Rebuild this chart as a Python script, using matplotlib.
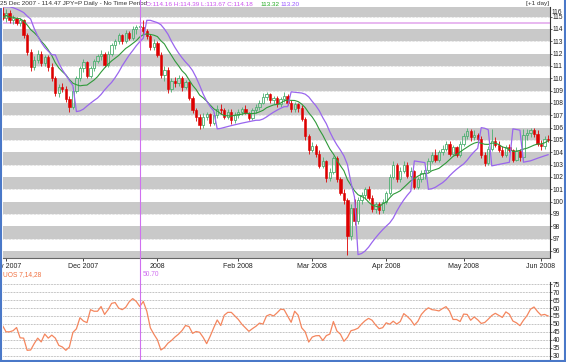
import numpy as np
import pandas as pd
import matplotlib
matplotlib.use('Agg')
import matplotlib.pyplot as plt
from matplotlib.lines import Line2D
from matplotlib.transforms import blended_transform_factory

plt.rcParams['font.family'] = ['Liberation Sans', 'DejaVu Sans']

# ---- data (JPY=P daily) ----
dates = pd.bdate_range('2007-10-31', '2008-06-04')

opens = [115.3, 114.9, 115.3, 114.7, 114.9, 114.5, 114.7, 113.5, 112.1, 110.9,
         111.5, 112.0, 111.2, 111.7, 110.9, 110.0, 108.8, 109.3, 109.1, 108.3,
         107.7, 109.0, 110.0, 110.8, 111.3, 110.2, 110.8, 111.4, 111.8, 112.0,
         111.1, 112.0, 112.7, 113.0, 113.5, 113.0, 113.7, 113.3, 114.0, 114.16,
         114.18, 113.8, 113.4, 112.5, 112.9, 111.9, 110.3, 110.7, 109.1, 109.8,
         109.6, 110.0, 109.3, 109.7, 108.4, 107.4, 106.9, 106.2, 106.9, 107.1,
         106.4, 107.0, 107.5, 107.4, 106.9, 107.3, 106.6, 107.0, 107.3, 107.5,
         107.2, 106.8, 107.4, 107.7, 108.0, 108.5, 108.7, 108.2, 108.4, 107.9,
         108.3, 108.6, 108.0, 107.5, 107.9, 107.6, 106.7, 105.3, 104.2, 104.5,
         103.9, 102.9, 103.3, 101.9, 102.4, 103.5, 101.8, 100.7, 100.1, 97.2,
         99.5, 98.4, 100.1, 100.5, 101.0, 100.3, 99.4, 99.8, 99.3, 100.0,
         100.7, 102.0, 103.0, 101.8, 102.5, 103.0, 102.1, 102.5, 101.2, 101.8,
         102.3, 102.6, 103.3, 103.8, 103.4, 104.0, 104.3, 104.7, 103.9, 104.4,
         103.8, 104.7, 105.3, 105.7, 105.2, 105.4, 105.1, 103.8, 103.1, 104.3,
         104.9, 104.6, 104.2, 103.8, 104.4, 104.2, 103.4, 104.1, 103.6, 105.4,
         105.6, 105.8, 105.5, 104.7, 104.5, 105.1]
highs = [115.8, 115.6, 115.5, 115.1, 115.0, 114.9, 114.8, 113.7, 112.4, 111.8,
         112.3, 112.2, 111.9, 111.9, 111.2, 110.2, 109.5, 109.6, 109.4, 108.6,
         109.3, 110.2, 111.0, 111.6, 111.4, 111.0, 111.6, 112.0, 112.3, 112.1,
         112.2, 112.9, 113.2, 113.7, 113.6, 113.9, 113.8, 114.2, 114.3, 114.39,
         114.7, 114.0, 113.6, 113.2, 113.0, 112.1, 111.0, 110.9, 110.0, 110.1,
         110.3, 110.2, 109.9, 109.8, 108.6, 107.6, 107.1, 107.2, 107.3, 107.2,
         107.3, 107.8, 107.9, 107.6, 107.5, 107.5, 107.3, 107.5, 107.7, 107.8,
         107.3, 107.6, 107.9, 108.2, 108.8, 108.9, 108.8, 108.6, 108.6, 108.5,
         108.9, 108.7, 108.2, 108.1, 108.0, 107.8, 106.9, 105.5, 104.8, 104.7,
         104.2, 103.6, 103.4, 102.7, 103.7, 103.7, 102.0, 101.0, 100.3, 99.8,
         100.2, 100.4, 100.8, 101.2, 101.3, 100.5, 100.0, 100.0, 100.2, 100.9,
         102.2, 103.3, 103.1, 102.8, 103.3, 103.2, 102.8, 102.6, 102.0, 102.6,
         102.8, 103.5, 104.0, 104.3, 104.2, 104.6, 104.9, 104.9, 104.6, 104.5,
         104.9, 105.6, 106.0, 105.9, 105.8, 105.6, 105.3, 104.0, 104.5, 105.9,
         105.2, 104.9, 104.5, 104.6, 104.7, 104.3, 104.4, 104.3, 105.9, 105.9,
         106.0, 106.0, 105.8, 105.0, 105.3, 105.4]
lows = [114.7, 114.6, 114.5, 114.4, 114.3, 114.2, 113.3, 111.9, 110.6, 110.7,
        111.2, 111.0, 111.0, 110.6, 109.8, 108.6, 108.5, 108.9, 108.1, 107.3,
        107.5, 108.8, 109.8, 110.5, 110.0, 110.0, 110.6, 111.2, 111.5, 110.9,
        110.9, 111.8, 112.4, 112.8, 112.8, 112.9, 113.1, 113.1, 113.6, 113.67,
        113.5, 113.2, 112.3, 112.3, 111.7, 110.0, 109.8, 108.8, 108.9, 109.3,
        109.4, 109.0, 109.1, 108.2, 107.2, 106.5, 105.9, 106.0, 106.6, 106.1,
        106.2, 106.8, 107.1, 106.7, 106.7, 106.3, 106.4, 106.8, 107.0, 107.1,
        106.6, 106.6, 107.2, 107.4, 107.9, 108.2, 108.0, 107.9, 107.7, 107.7,
        108.1, 107.8, 107.3, 107.3, 107.3, 106.5, 105.0, 103.9, 104.0, 103.6,
        102.7, 102.7, 101.6, 101.7, 102.2, 101.6, 100.5, 99.8, 95.7, 96.9,
        98.1, 98.2, 99.8, 100.2, 100.1, 99.2, 99.1, 99.0, 99.1, 99.8,
        100.5, 101.8, 101.6, 101.6, 102.3, 101.9, 101.9, 101.0, 101.0, 101.6,
        101.8, 102.4, 103.1, 103.2, 103.2, 103.8, 104.1, 103.7, 103.7, 103.6,
        103.6, 104.5, 105.1, 104.9, 105.0, 104.9, 103.5, 102.9, 103.0, 104.1,
        104.4, 104.0, 103.6, 103.6, 104.0, 103.2, 103.3, 103.3, 103.4, 105.0,
        105.2, 105.2, 104.5, 104.2, 104.3, 104.8]
closes = [114.9, 115.3, 114.7, 114.9, 114.5, 114.7, 113.5, 112.1, 110.9, 111.5,
          112.0, 111.2, 111.7, 110.9, 110.0, 108.8, 109.3, 109.1, 108.3, 107.7,
          109.0, 110.0, 110.8, 111.3, 110.2, 110.8, 111.4, 111.8, 112.0, 111.1,
          112.0, 112.7, 113.0, 113.5, 113.0, 113.7, 113.3, 114.0, 114.16, 114.18,
          113.8, 113.4, 112.5, 112.9, 111.9, 110.3, 110.7, 109.1, 109.8, 109.6,
          110.0, 109.3, 109.7, 108.4, 107.4, 106.9, 106.2, 106.9, 107.1, 106.4,
          107.0, 107.5, 107.4, 106.9, 107.3, 106.6, 107.0, 107.3, 107.5, 107.2,
          106.8, 107.4, 107.7, 108.0, 108.5, 108.7, 108.2, 108.4, 107.9, 108.3,
          108.6, 108.0, 107.5, 107.9, 107.6, 106.7, 105.3, 104.2, 104.5, 103.9,
          102.9, 103.3, 101.9, 102.4, 103.5, 101.8, 100.7, 100.1, 97.2, 99.5,
          98.4, 100.1, 100.5, 101.0, 100.3, 99.4, 99.8, 99.3, 100.0, 100.7,
          102.0, 103.0, 101.8, 102.5, 103.0, 102.1, 102.5, 101.2, 101.8, 102.3,
          102.6, 103.3, 103.8, 103.4, 104.0, 104.3, 104.7, 103.9, 104.4, 103.8,
          104.7, 105.3, 105.7, 105.2, 105.4, 105.1, 103.8, 103.1, 104.3, 104.9,
          104.6, 104.2, 103.8, 104.4, 104.2, 103.4, 104.1, 103.6, 105.4, 105.6,
          105.8, 105.5, 104.7, 104.5, 105.1, 105.0]

# Ultimate Oscillator 7,14,28 (lower panel)
uos = [49, 45, 45, 45.7, 47.7, 41.2, 41, 33.3, 33.5, 37.5,
       41, 38.6, 43.6, 41, 42.9, 41, 36.4, 35.4, 33.3, 35.4,
       44.6, 46.9, 53.9, 51.8, 50.8, 59, 58, 58, 61, 56,
       59, 63, 63.5, 60, 59, 60.5, 64, 66, 64.2, 61,
       64.2, 58, 47.5, 43.5, 40, 33.5, 35, 37.8, 39.5, 41.7,
       43.5, 45.8, 49, 48.3, 44, 45.2, 44.7, 41.5, 37.5, 42.2,
       47.5, 52.5, 49, 55.5, 57.3, 57.3, 55, 52.8, 49.8, 47.5,
       45.3, 47, 48.5, 50.5, 49.9, 55, 56, 55, 57, 59.3,
       59, 55, 51, 58, 55.5, 47.5, 45, 38.5, 41.7, 42.5,
       42.6, 39.5, 42.6, 43.6, 51.5, 45.5, 43.5, 39, 41.5, 45.7,
       46.3, 47.3, 49.9, 52, 53.5, 52.3, 49.3, 47, 47.6, 50.7,
       49.8, 51.7, 49.9, 51.5, 56.5, 54.7, 52.5, 49.2, 51.6, 56,
       58.5, 60.2, 59, 58.7, 58.2, 59.7, 60.9, 58.1, 52.8, 52.8,
       51.5, 56.2, 56, 52.3, 54.4, 52.6, 50.3, 50.9, 53, 55.3,
       56.7, 55.4, 54.1, 57.6, 56.1, 51.8, 50.7, 48.9, 52.3, 55.2,
       59.3, 60.7, 57.8, 55.5, 56, 55]

month_labels = ['Nov 2007', 'Dec 2007', '2008', 'Feb 2008', 'Mar 2008',
                'Apr 2008', 'May 2008', 'Jun 2008']
price_ticks = list(range(96, 116))
uos_ticks = list(range(30, 80, 5))
cursor_idx = 39          # 25 Dec 2007
cursor_price = 114.47

o = np.array(opens); h = np.array(highs); l = np.array(lows); c = np.array(closes)
x = np.arange(len(dates))

# moving average and parabolic SAR computed from the bars
ma = pd.Series(c).rolling(10, min_periods=1).mean().values


def psar(hi, lo, af0=0.02, step=0.02, afmax=0.2):
    n = len(hi)
    out = np.zeros(n)
    up = False
    out[0] = max(hi[0], hi[1])
    ep = lo[0]
    af = af0
    for i in range(1, n):
        s = out[i - 1] + af * (ep - out[i - 1])
        if up:
            s = min(s, lo[i - 1], lo[max(i - 2, 0)])
            if lo[i] < s:
                up = False; s = ep; ep = lo[i]; af = af0
            elif hi[i] > ep:
                ep = hi[i]; af = min(af + step, afmax)
        else:
            s = max(s, hi[i - 1], hi[max(i - 2, 0)])
            if hi[i] > s:
                up = True; s = ep; ep = hi[i]; af = af0
            elif lo[i] < ep:
                ep = lo[i]; af = min(af + step, afmax)
        out[i] = s
    return out


sar = psar(h, l)

month_idx = [i for i in range(len(dates)) if i == 0 or dates[i].month != dates[i - 1].month][1:]

# ---- figure ----
W, H = 566, 362
fig = plt.figure(figsize=(W / 100, H / 100), dpi=100)
fig.patch.set_facecolor('white')

x0 = (3 - 2.5) / 3.52
x1 = (550 - 2.5) / 3.52
ax = fig.add_axes([3 / W, (H - 258) / H, 547 / W, 251 / H])
ax2 = fig.add_axes([3 / W, 3 / H, 547 / W, 77 / H])

ax.set_xlim(x0, x1)
ax.set_ylim(95.43, 115.78)
for k in range(95, 117, 2):
    ax.axhspan(k, k + 1, color='#c9c9c9', lw=0, zorder=0)
    ax.axhline(k, color='#a8a8a8', lw=0.4, ls=(0, (1, 1.5)), zorder=0.5)

ax.axhline(cursor_price, color='#e8b8f0', lw=1.4, zorder=1)

green = '#4cb070'
red = '#dd0000'
up = c >= o
dn = ~up
top = np.maximum(o, c); bot = np.minimum(o, c)
ax.vlines(x[up], top[up], h[up], color=green, lw=0.6, zorder=2)
ax.vlines(x[up], l[up], bot[up], color=green, lw=0.6, zorder=2)
ax.vlines(x[dn], l[dn], h[dn], color=red, lw=0.6, zorder=2)
ax.bar(x[up], np.maximum(c[up] - o[up], 0.05), bottom=o[up], width=0.65,
       facecolor='none', edgecolor=green, lw=0.6, zorder=3)
ax.bar(x[dn], o[dn] - c[dn], bottom=c[dn], width=0.65,
       facecolor=red, edgecolor=red, lw=0.4, zorder=3)

ax.plot(x, ma, color='#2f9a3a', lw=0.8, zorder=4)
ax.plot(x, sar, color='#9a66ee', lw=0.9, zorder=4)

for s in ['top', 'left']:
    ax.spines[s].set_visible(False)
ax.spines['right'].set_color('#333333')
ax.spines['right'].set_linewidth(0.8)
ax.spines['bottom'].set_color('#666666')
ax.spines['bottom'].set_linewidth(0.8)
ax.yaxis.tick_right()
ax.set_yticks(price_ticks)
ax.set_yticklabels([str(t) for t in price_ticks])
ax.tick_params(axis='y', labelsize=4.8, length=1.5, pad=0.6, width=0.5, colors='#222222')
ax.set_xticks(month_idx)
ax.set_xticklabels(month_labels)
ax.tick_params(axis='x', labelsize=5, length=2.5, pad=1.2, width=0.6, colors='#222222')
ax.text(1.0035, 0.98, '116', transform=ax.transAxes, fontsize=4.8, color='#222222',
        va='center', ha='left')

# lower panel
ax2.set_xlim(x0, x1)
ax2.set_ylim(27.8, 76.5)
for t in uos_ticks:
    ax2.axhline(t, color='#888888', lw=0.5, ls=(0, (1, 1.2)), zorder=0)
ax2.plot(x, uos, color='#f4865e', lw=0.9, zorder=3)
for s in ['top', 'left', 'bottom']:
    ax2.spines[s].set_visible(False)
ax2.spines['right'].set_color('#333333')
ax2.spines['right'].set_linewidth(0.8)
ax2.yaxis.tick_right()
ax2.set_yticks(uos_ticks)
ax2.set_yticklabels([str(t) for t in uos_ticks])
ax2.tick_params(axis='y', labelsize=4.8, length=1.5, pad=0.6, width=0.5, colors='#222222')
ax2.set_xticks([])

# crosshair through both panels
tr = blended_transform_factory(ax.transData, fig.transFigure)
fig.add_artist(Line2D([cursor_idx, cursor_idx], [3 / H, 1.0], transform=tr,
                      color='#d070f0', lw=0.8, zorder=5))

# header texts
fy = 1 - 4 / H
hs = 4.6
fig.text(0 / W, fy, '25 Dec 2007 - 114.47 JPY=P Daily - No Time Period', fontsize=hs,
         color='#333333', va='center', ha='left')
fig.text(146 / W, fy, 'O:114.16 H:114.39 L:113.67 C:114.18', fontsize=hs,
         color='#cc55ee', va='center', ha='left')
fig.text(260 / W, fy, '113.32', fontsize=hs, color='#22aa22', va='center', ha='left')
fig.text(280 / W, fy, '113.20', fontsize=hs, color='#9955ff', va='center', ha='left')
fig.text(549 / W, fy, '[+1 day]', fontsize=hs, color='#333333', va='center', ha='right')
fig.text(3 / W, 1 - 275 / H, 'UOS 7,14,28', fontsize=4.8, color='#f07040', va='center')
fig.text(143 / W, 1 - 275 / H, '50.70', fontsize=4.8, color='#d070f0', va='center')

# blue window frame
frame = '#4a78c8'
fig.add_artist(Line2D([1 / W, 1 / W], [0, 1 - 9 / H], transform=fig.transFigure, color=frame, lw=1.5))
fig.add_artist(Line2D([0, 1], [1 / H, 1 / H], transform=fig.transFigure, color=frame, lw=1.5))
fig.add_artist(Line2D([1 - 1 / W, 1 - 1 / W], [0, 1], transform=fig.transFigure, color=frame, lw=1.5))

fig.savefig('out.png', dpi=100, facecolor='white')
